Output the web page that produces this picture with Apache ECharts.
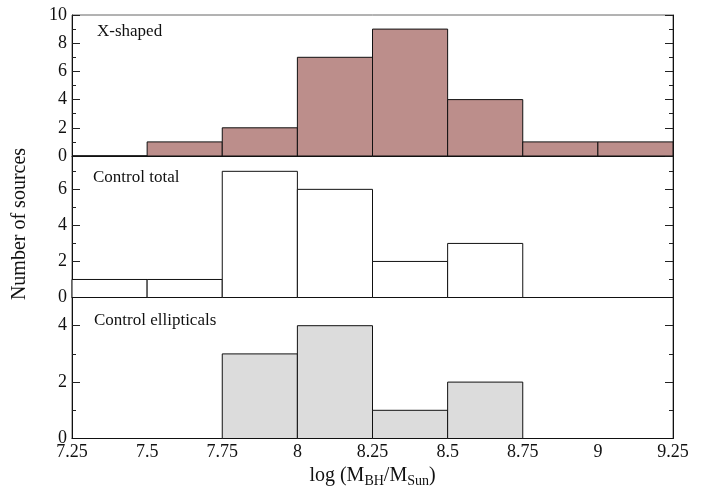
<!DOCTYPE html>
<html>
<head>
<meta charset="utf-8">
<script src="https://cdn.jsdelivr.net/npm/echarts@6/dist/echarts.min.js"></script>
<style>
  html, body { margin: 0; padding: 0; background: #fff; }
  #chart { width: 715px; height: 492px; }
</style>
</head>
<body>
<div id="chart"></div>
<script>
// bin edges on log(M_BH/M_Sun)
const binEdges = [7.25, 7.5, 7.75, 8, 8.25, 8.5, 8.75, 9, 9.25];

// counts per bin
const xShaped = [0, 1, 2, 7, 9, 4, 1, 1];
const controlTotal = [1, 1, 7, 6, 2, 3, 0, 0];
const controlEllipticals = [0, 0, 3, 4, 1, 2, 0, 0];

const panelNames = ["X-shaped", "Control total", "Control ellipticals"];
const panelValues = [xShaped, controlTotal, controlEllipticals];
const panelMax = [10, 7.85, 5];
const panelFill = ["#bc8e8b", "#ffffff", "#dcdcdc"];

const FONT = "Liberation Serif";
const chart = echarts.init(document.getElementById("chart"));

const gridTops = [15, 156, 297.5];
const gridH = [141, 141.5, 141];

const grids = gridTops.map((t, i) => ({
  left: 72, right: 42, top: t, height: gridH[i],
  show: true, borderColor: "#666", borderWidth: 1, containLabel: false
}));

const xAxes = grids.map((g, i) => ({
  type: "value", gridIndex: i, min: 7.25, max: 9.25, interval: 0.25,
  axisLine: { show: true, onZero: false, lineStyle: { color: "#111", width: 1 } },
  axisTick: { show: false },
  splitLine: { show: false },
  axisLabel: {
    show: i === 2, color: "#111", fontFamily: FONT, fontSize: 18, margin: 5,
    formatter: v => String(v)
  },
  name: i === 2 ? "log (M{s|BH}/M{s|Sun})" : "",
  nameLocation: "middle",
  nameGap: 25,
  nameTextStyle: {
    color: "#111", fontFamily: FONT, fontSize: 20,
    rich: { s: { fontFamily: FONT, fontSize: 14, color: "#111", padding: [11, 0, 0, 0] } }
  }
}));

const yAxes = [];
grids.forEach((g, i) => {
  ["left", "right"].forEach(pos => {
    // major ticks
    yAxes.push({
      type: "value", gridIndex: i, position: pos, min: 0, max: panelMax[i], interval: 2,
      axisLine: { show: true, lineStyle: { color: "#111", width: 1 } },
      axisTick: { show: true, inside: true, length: 8, lineStyle: { color: "#222" } },
      splitLine: { show: false },
      axisLabel: {
        show: pos === "left", color: "#111", fontFamily: FONT, fontSize: 18, margin: 5,
        showMaxLabel: i === 0
      }
    });
    // minor ticks
    yAxes.push({
      type: "value", gridIndex: i, position: pos, min: 0, max: panelMax[i], interval: 1,
      axisLine: { show: false },
      axisTick: { show: true, inside: true, length: 4, lineStyle: { color: "#222" } },
      splitLine: { show: false },
      axisLabel: { show: false }
    });
  });
});

function histItem(fill) {
  return function (params, api) {
    const x0 = api.value(0), x1 = api.value(1), v = api.value(2);
    const p0 = api.coord([x0, v]);
    const p1 = api.coord([x1, 0]);
    return {
      type: "rect",
      shape: { x: p0[0], y: p0[1], width: p1[0] - p0[0], height: p1[1] - p0[1] },
      style: { fill: fill, stroke: "#111", lineWidth: 1 }
    };
  };
}

const series = panelValues.map((vals, i) => ({
  type: "custom",
  name: panelNames[i],
  xAxisIndex: i,
  yAxisIndex: i * 4,
  renderItem: histItem(panelFill[i]),
  encode: { x: [0, 1], y: 2 },
  data: vals.map((v, k) => [binEdges[k], binEdges[k + 1], v]),
  silent: true,
  z: 1
}));

const labelPos = [[97, 32], [93, 177.5], [94, 321]];

chart.setOption({
  animation: false,
  backgroundColor: "#fff",
  grid: grids,
  xAxis: xAxes,
  yAxis: yAxes,
  series: series,
  graphic: [
    ...panelNames.map((n, i) => ({
      type: "text", x: labelPos[i][0], y: labelPos[i][1], z: 10,
      style: { text: n, fontFamily: FONT, fontSize: 17, fill: "#111", verticalAlign: "middle" }
    })),
    {
      type: "text", x: 20, y: 224, rotation: Math.PI / 2, z: 10,
      style: { text: "Number of sources", fontFamily: FONT, fontSize: 20, fill: "#111",
        align: "center", verticalAlign: "middle" }
    }
  ]
});
</script>
</body>
</html>
